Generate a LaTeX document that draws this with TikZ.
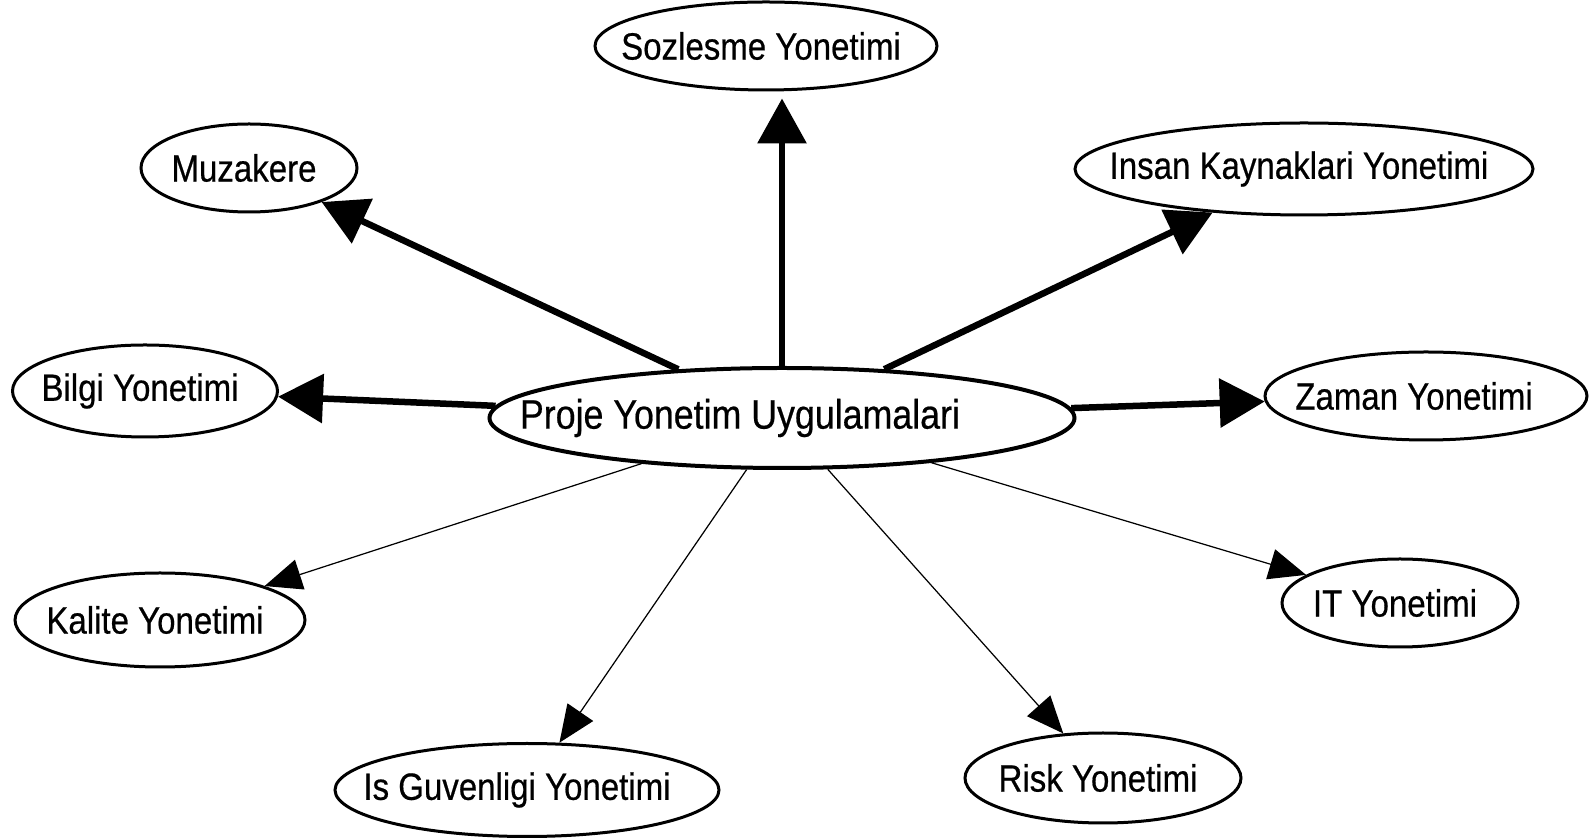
\documentclass[tikz,border=0pt]{standalone}
\usepackage{fontspec}
\setmainfont[FakeStretch=0.87, FakeBold=0.5]{Liberation Sans}
\usetikzlibrary{arrows.meta,shapes.geometric}

% text in a zero-width box, so the ellipse keeps its given size
\newcommand\lbl[2][-0.05cm]{\makebox[0pt]{\hspace*{#1}#2\hspace*{-#1}}}

\begin{document}
\begin{tikzpicture}[
            topic/.style={
                ellipse,
                draw,
                line width=0.03cm,
                inner sep=0pt,
                font=\fontsize{10.8pt}{12pt}\selectfont
            },
            main/.style={
                topic,
                line width=0.04cm,
                minimum width=5.85cm,
                minimum height=1.0cm,
                font=\fontsize{11.7pt}{13pt}\selectfont
            },
            strong/.style={
                line width=0.065cm,
                -{Triangle[length=0.45cm, width=0.48cm]}
            },
            weak/.style={
                line width=0.35pt,
                -{Triangle[length=0.37cm, width=0.31cm]}
            }
        ]

            \useasboundingbox (0, 0) rectangle (15.93, 8.40);

            \node[main] (proje) at (7.82, 4.22) {\lbl[-0.42cm]{Proje Yonetim Uygulamalari}};

            \node[topic, minimum width=3.42cm, minimum height=0.88cm] (soz) at (7.66, 7.94) {\lbl{Sozlesme Yonetimi}};
            \node[topic, minimum width=2.16cm, minimum height=0.88cm] (muz) at (2.49, 6.72) {\lbl{Muzakere}};
            \node[topic, minimum width=4.58cm, minimum height=0.92cm] (insan) at (13.04, 6.71) {\lbl{Insan Kaynaklari Yonetimi}};
            \node[topic, minimum width=2.65cm, minimum height=0.92cm] (bilgi) at (1.45, 4.49) {\lbl{Bilgi Yonetimi}};
            \node[topic, minimum width=3.22cm, minimum height=0.88cm] (zaman) at (14.26, 4.44) {\lbl[-0.12cm]{Zaman Yonetimi}};

            \node[topic, minimum width=2.90cm, minimum height=0.94cm] (kalite) at (1.60, 2.20) {\lbl{Kalite Yonetimi}};
            \node[topic, minimum width=2.36cm, minimum height=0.88cm] (it) at (14.00, 2.37) {\lbl{IT Yonetimi}};
            \node[topic, minimum width=3.84cm, minimum height=0.93cm] (isg) at (5.27, 0.50) {\lbl[-0.1cm]{Is Guvenligi Yonetimi}};
            \node[topic, minimum width=2.76cm, minimum height=0.90cm] (risk) at (11.03, 0.62) {\lbl{Risk Yonetimi}};

            \draw[strong, shorten >=0.07cm] (proje) -- (proje |- soz.south);
            \draw[strong] (proje) -- (muz);
            \draw[strong] (proje) -- (insan);
            \draw[strong] (proje) -- (bilgi);
            \draw[strong] (proje) -- (zaman);

            \draw[weak] (proje) -- (kalite);
            \draw[weak] (proje) -- (isg);
            \draw[weak] (proje) -- (risk);
            \draw[weak] (proje) -- (it);

        \end{tikzpicture}
\end{document}
